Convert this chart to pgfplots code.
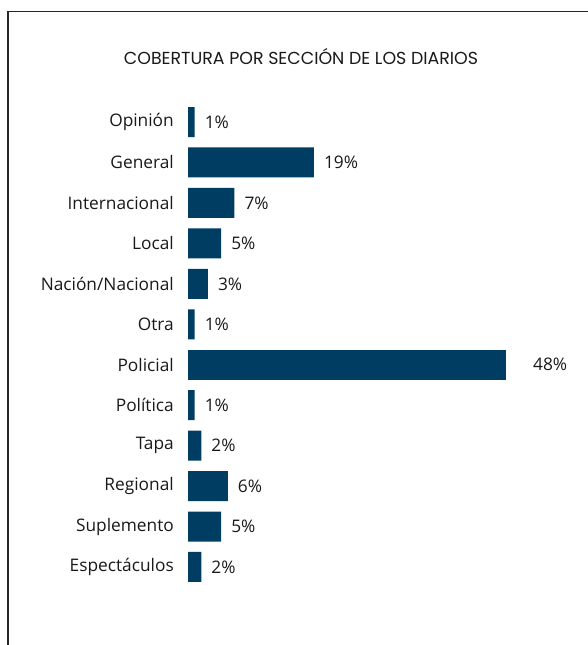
\documentclass[border=0pt]{standalone}
\usepackage{pgfplots}
\pgfplotsset{compat=1.18}
\usepackage{fontspec}
\setmainfont{Open Sans}
\newfontfamily\titlefont{Poppins}
\definecolor{barblue}{HTML}{003D63}
\begin{document}
\begin{tikzpicture}
\useasboundingbox (0,0) rectangle (588bp,-645bp);
\draw[line width=1.5bp, black!85] (8bp,-645bp) -- (8bp,-11.5bp) -- (588bp,-11.5bp);
\node[font=\titlefont\fontsize{17.4bp}{20bp}\selectfont, inner sep=0pt, text=black!90] at (301bp,-56.5bp) {COBERTURA POR SECCIÓN DE LOS DIARIOS};
\begin{axis}[
  at={(188bp,-101.8bp)}, anchor=north west,
  scale only axis, width=397.5bp, height=485.4bp,
  xmin=0, xmax=60, ymin=-0.5, ymax=11.5, y dir=reverse,
  xbar, bar width=30bp, bar shift=0pt,
  axis line style={draw=none},
  xtick=\empty, ytick={0,...,11},
  yticklabels={Opinión,General,Internacional,Local,Nación/Nacional,Otra,Policial,Política,Tapa,Regional,Suplemento,Espectáculos},
  major tick length=0pt,
  /pgf/number format/assume math mode=true,
  yticklabel style={font=\fontsize{17.3bp}{20bp}\selectfont, inner sep=0pt, xshift=-14bp, text=black!90},
  point meta=x,
  nodes near coords={\pgfmathprintnumber{\pgfplotspointmeta}\%},
  nodes near coords style={anchor=west, font=\fontsize{17.3bp}{20bp}\selectfont, inner sep=0pt, xshift=10bp, text=black!90},
  clip=false,
]
\addplot[fill=barblue, draw=none] coordinates {
(1,0) (19,1) (7,2) (5,3) (3,4) (1,5) (1,7) (2,8) (6,9) (5,10) (2,11)
};
\addplot[fill=barblue, draw=none, nodes near coords style={xshift=17bp}] coordinates {
(48,6)
};
\end{axis}
\end{tikzpicture}
\end{document}
